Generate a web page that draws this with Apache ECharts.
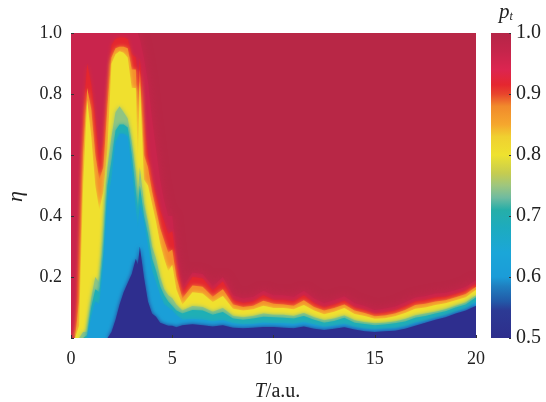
<!DOCTYPE html>
<html>
<head>
<meta charset="utf-8">
<style>
html, body { margin: 0; padding: 0; background: #fff; }
#main { width: 546px; height: 402px; }
</style>
<script src="https://cdn.jsdelivr.net/npm/echarts@6/dist/echarts.min.js"></script>
</head>
<body>
<div id="main"></div>
<script>
// T samples, finer where the stripes are
const T = [0, .2, .4, .6, .8, 1, 1.2, 1.4, 1.6, 1.8, 2, 2.2, 2.4, 2.6, 2.8, 3, 3.2, 3.3, 3.4, 3.6, 3.8, 4, 4.2, 4.4, 4.6, 4.8, 5, 5.2,
  5.5, 6, 6.5, 7, 7.5, 8, 8.5, 9, 9.5, 10, 10.5, 11, 11.5, 12, 12.5, 13, 13.5, 14, 14.5, 15, 15.5, 16, 16.5, 17, 17.5, 18, 18.5, 19, 19.5, 20];

// eta at which p_t reaches each level, one value per T sample
const eta97 = [1, 1, 1, 1, 1, 1, 1, 1, 1, 1, 1, 1, 1, 1, 1, 1, 1, 1, .98, .92, .84, .72, .62, .52, .45, .40, .40, .28,
  .165, .215, .21, .17, .2, .14, .13, .135, .155, .14, .14, .135, .155, .13, .115, .125, .137, .115, .105, .092, .097, .103, .117, .133, .138, .146, .148, .157, .168, .19];
const eta95 = [0, 0, .30, .72, .90, .83, .72, .58, .64, .82, .96, .98, .985, .985, .98, .93, .92, .84, .92, .72, .60, .52, .47, .42, .38, .34, .35, .24,
  .15, .2, .195, .155, .185, .125, .115, .12, .14, .125, .125, .12, .14, .115, .1, .11, .122, .1, .092, .079, .084, .09, .104, .12, .125, .133, .135, .144, .155, .178];
const eta90 = [0, 0, .12, .60, .82, .75, .60, .52, .56, .76, .92, .95, .955, .955, .95, .88, .88, .70, .88, .60, .56, .48, .42, .36, .32, .28, .29, .20,
  .13, .172, .168, .135, .16, .11, .102, .106, .122, .112, .11, .106, .124, .102, .09, .098, .11, .09, .082, .071, .074, .08, .092, .108, .112, .12, .124, .134, .144, .168];
const eta85 = [0, 0, .04, .50, .78, .66, .50, .42, .48, .62, .90, .93, .94, .935, .92, .82, .82, .58, .84, .52, .50, .44, .38, .31, .26, .22, .24, .16,
  .11, .15, .146, .118, .138, .096, .09, .094, .106, .098, .098, .094, .108, .09, .078, .086, .098, .079, .072, .063, .065, .071, .082, .096, .1, .108, .114, .124, .134, .158];
const eta78 = [0, 0, 0, .02, .02, .13, .20, .18, .33, .56, .66, .74, .76, .74, .72, .64, .54, .46, .56, .44, .38, .30, .26, .20, .16, .14, .13, .11,
  .09, .105, .102, .086, .098, .072, .068, .072, .08, .076, .076, .072, .082, .068, .058, .064, .074, .058, .052, .048, .05, .054, .062, .074, .08, .086, .094, .106, .116, .14];
const eta72 = [0, 0, 0, 0, .01, .10, .16, .15, .28, .50, .58, .68, .70, .70, .69, .60, .48, .42, .50, .40, .34, .26, .22, .17, .14, .12, .105, .09,
  .08, .092, .09, .076, .085, .064, .06, .064, .07, .068, .066, .064, .072, .06, .05, .056, .066, .05, .046, .042, .044, .048, .054, .066, .072, .08, .088, .1, .11, .134];
const eta60 = [0, 0, 0, 0, 0, .07, .12, .11, .24, .45, .52, .64, .67, .67, .66, .55, .42, .36, .44, .38, .30, .22, .18, .14, .11, .10, .09, .075,
  .06, .062, .06, .054, .058, .048, .044, .046, .05, .048, .048, .046, .052, .044, .036, .04, .046, .035, .03, .028, .03, .032, .038, .05, .056, .066, .074, .086, .096, .118];
const eta55 = [0, 0, 0, 0, 0, 0, 0, 0, 0, 0, .02, .06, .11, .15, .18, .21, .26, .24, .30, .20, .12, .08, .07, .05, .045, .04, .04, .035,
  .042, .045, .042, .038, .042, .034, .032, .034, .036, .036, .034, .032, .038, .03, .026, .03, .035, .028, .022, .02, .022, .024, .03, .04, .05, .06, .068, .08, .09, .106];

const bandNames = ['p97', 'p95', 'p90', 'p85', 'p78', 'p72', 'p60', 'p55'];
const bandEtas = [eta97, eta95, eta90, eta85, eta78, eta72, eta60, eta55];
const bandColors = ['#c9244c', '#e4262f', '#f58f2c', '#f0e02e', '#8fc482', '#1fafb5', '#1a9fd8', '#2e2e8e'];
const bandBlur = [10, 4, 4, 4, 4, 4, 4, 4];

// colour bar stops, p_t value and colour
const barValues = [1, .97, .94, .915, .9, .88, .85, .83, .8, .77, .75, .73, .71, .68, .64, .6, .585, .56, .545, .5];
const barColors = ['#b52547', '#c5254b', '#dc2550', '#e5272f', '#e8452c', '#f18a2c', '#f5a72e', '#f0d030', '#eee22f', '#c5cc50',
  '#9ec67e', '#6fbba0', '#26aea8', '#1dabbf', '#1ba6d8', '#1b9cd8', '#1f7fc0', '#2259a8', '#2c3a94', '#2e2e8c'];

const serif = '"Liberation Serif", serif';
const labelStyle = { fontFamily: serif, fontSize: 18, color: '#222' };
const tick = { show: true, inside: true, length: 3, lineStyle: { color: '#333', width: 1 } };

const chart = echarts.init(document.getElementById('main'), null, { renderer: 'canvas' });

const bandSeries = bandNames.map(function (name, i) {
  return {
    name: name,
    type: 'line',
    xAxisIndex: 0,
    yAxisIndex: 0,
    data: T.map(function (t, j) { return [t, bandEtas[i][j]]; }),
    showSymbol: false,
    silent: true,
    lineStyle: { width: 0 },
    areaStyle: { color: bandColors[i], opacity: 1, origin: 'start', shadowColor: bandColors[i], shadowBlur: bandBlur[i] },
    z: 2 + i
  };
});

chart.setOption({
  animation: false,
  backgroundColor: '#fff',
  grid: [
    { left: 71, top: 33, width: 405, height: 305, outerBoundsMode: 'none', backgroundColor: '#b82746', show: true, borderWidth: 0 },
    { left: 491, top: 33, width: 20, height: 305, outerBoundsMode: 'none' }
  ],
  xAxis: [
    {
      type: 'value', gridIndex: 0, min: 0, max: 20, interval: 5, z: 20,
      axisLine: { show: false }, axisTick: tick, splitLine: { show: false },
      axisLabel: Object.assign({ margin: 12 }, labelStyle),
      name: '{i|T}{r|/a.u.}', nameLocation: 'middle', nameGap: 44,
      nameTextStyle: { padding: [0, 0, 0, 8], rich: { i: { fontFamily: serif, fontSize: 20, fontStyle: 'italic', color: '#222' }, r: { fontFamily: serif, fontSize: 20, color: '#222' } } }
    },
    { type: 'category', gridIndex: 1, data: ['p'], show: false }
  ],
  yAxis: [
    {
      type: 'value', gridIndex: 0, min: 0, max: 1, interval: .2, z: 20,
      axisLine: { show: false }, axisTick: tick, splitLine: { show: false },
      axisLabel: Object.assign({ margin: 9, formatter: function (v) { return v === 0 ? '' : v.toFixed(1); } }, labelStyle),
      name: 'η', nameLocation: 'middle', nameGap: 44, nameRotate: 90,
      nameTextStyle: { fontFamily: serif, fontSize: 22, fontStyle: 'italic', color: '#222', padding: [0, 22, 0, 0] }
    },
    {
      type: 'value', gridIndex: 1, min: .5, max: 1, interval: .1, position: 'right', z: 20,
      axisLine: { show: false }, axisTick: { show: true, inside: true, length: 2, lineStyle: { color: '#333', width: 1 } }, splitLine: { show: false },
      axisLabel: Object.assign({}, labelStyle, { margin: 5, fontSize: 20, formatter: function (v) { return v.toFixed(1); } }),
      name: '{i|p}{s|t}', nameLocation: 'end', nameGap: 4,
      nameTextStyle: { align: 'center', padding: [0, 10, 0, 0], rich: { i: { fontFamily: serif, fontSize: 21, fontStyle: 'italic', color: '#222' }, s: { fontFamily: serif, fontSize: 12, fontStyle: 'italic', color: '#222', verticalAlign: 'bottom', padding: [6, 0, 0, 0] } } }
    }
  ],
  series: bandSeries.concat([{
    name: 'colorbar',
    type: 'bar',
    xAxisIndex: 1,
    yAxisIndex: 1,
    barWidth: '100%',
    silent: true,
    data: [1],
    itemStyle: {
      color: new echarts.graphic.LinearGradient(0, 0, 0, 1, barValues.map(function (v, i) {
        return { offset: (1 - v) / .5, color: barColors[i] };
      }))
    }
  }])
});
</script>
</body>
</html>
